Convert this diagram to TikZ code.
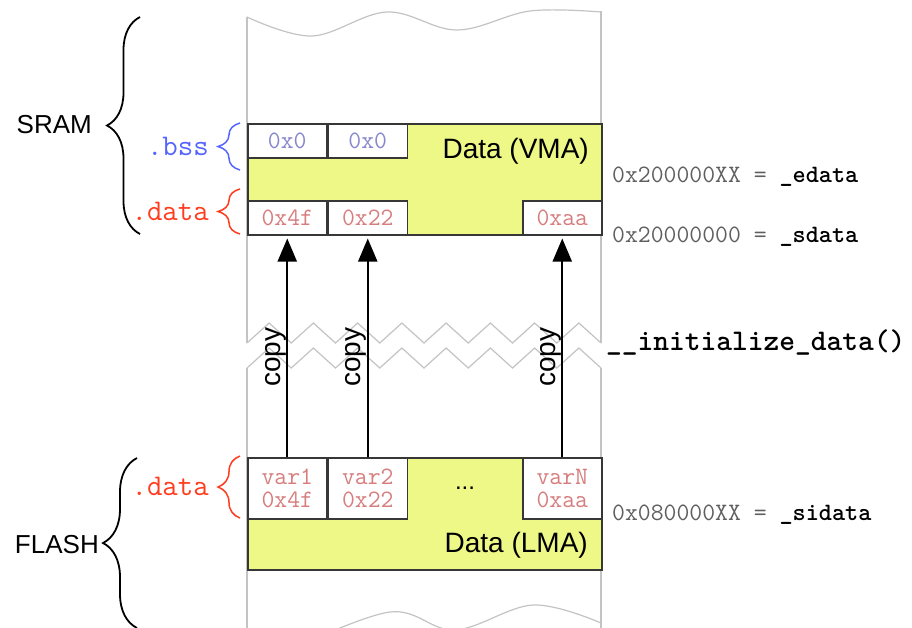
\documentclass[tikz,border=0pt]{standalone}
\usepackage{fontspec}
\setmainfont{Liberation Sans}
\usepackage{tikz}
\usetikzlibrary{calc,positioning,arrows.meta,decorations.pathreplacing}

\definecolor{wallgray}{RGB}{195,195,195}
\definecolor{boxline}{RGB}{55,55,55}
\definecolor{datayellow}{RGB}{238,248,134}
\definecolor{bssblue}{RGB}{85,100,255}
\definecolor{bsscell}{RGB}{135,135,205}
\definecolor{datared}{RGB}{255,60,30}
\definecolor{datacell}{RGB}{215,125,125}
\definecolor{addrgray}{RGB}{95,95,95}

\begin{document}
\begin{tikzpicture}[x=1pt, y=-1pt,
    wall/.style={draw=wallgray, line width=1.2pt},
    block/.style={draw=boxline, fill=datayellow, line width=1.5pt, minimum width=354pt, inner sep=0pt, anchor=north west},
    cell/.style={draw=boxline, fill=white, line width=1.5pt, minimum width=79pt, inner sep=0pt, align=center, font=\fontsize{25}{23}\selectfont\ttfamily},
    blocktext/.style={anchor=base east, inner sep=0pt, font=\fontsize{28}{30}\selectfont},
    memtext/.style={anchor=base east, inner sep=0pt, font=\fontsize{26}{28}\selectfont},
    sectext/.style={anchor=base east, inner sep=0pt, font=\fontsize{30}{32}\selectfont\ttfamily},
    addr/.style={anchor=base west, inner sep=0pt, text=addrgray, font=\fontsize{25}{27}\selectfont\ttfamily},
    bigbrace/.style={decorate, decoration={brace, amplitude=#1}, line width=1.8pt},
    smallbrace/.style={decorate, decoration={brace, amplitude=22pt}, line width=1.5pt},
    copyarrow/.style={line width=2pt, -{Triangle[length=23pt, width=19pt]}, shorten >=3pt},
    copylabel/.style={rotate=90, anchor=south, inner sep=0pt, pos=0.45, font=\fontsize{28}{30}\selectfont}
]
    \useasboundingbox (0,0) rectangle (912,627);
    % Draw memory column
    \draw[wall] plot[smooth, tension=0.6] coordinates {(247,17) (312,36) (387,12) (457,30) (530,11) (601,12)};
    \draw[wall] (247,17) -- (247,343);
    \draw[wall] (601,11) -- (601,343);
    \draw[wall] (247,368) -- (247,640);
    \draw[wall] (601,368) -- (601,640);
    \draw[wall] plot[smooth, tension=0.6] coordinates {(290,650) (390,612) (455,630) (533,605) (601,623)};
    % Draw torn edge
    \draw[wall] (247,343) \foreach \k in {1,...,8} { -- ++(22.125,-20) -- ++(22.125,20) };
    \draw[wall] (247,368) \foreach \k in {1,...,8} { -- ++(22.125,-20) -- ++(22.125,20) };
    % Draw data in SRAM
    \node[block, minimum height=111pt] (vma) at (247,123) {};
    \node[blocktext] (vmatext) at (589,158) {Data (VMA)};
    \node[cell, text=bsscell, minimum height=34pt, anchor=north west] (bss1) at (vma.north west) {0x0};
    \node[cell, text=bsscell, minimum height=34pt, right=0pt of bss1] (bss2) {0x0};
    \node[cell, text=datacell, minimum height=34pt, anchor=south west] (vd1) at (vma.south west) {0x4f};
    \node[cell, text=datacell, minimum height=34pt, right=0pt of vd1] (vd2) {0x22};
    \node[cell, text=datacell, minimum height=34pt, anchor=south east] (vdN) at (vma.south east) {0xaa};
    % Draw data in FLASH
    \node[block, minimum height=112pt] (lma) at (247,457) {};
    \node[blocktext] (lmatext) at (588,552) {Data (LMA)};
    \node[cell, text=datacell, minimum height=61pt, anchor=north west] (ld1) at (lma.north west) {var1\\0x4f};
    \node[cell, text=datacell, minimum height=61pt, right=0pt of ld1] (ld2) {var2\\0x22};
    \node[cell, text=datacell, minimum height=61pt, anchor=north east] (ldN) at (lma.north east) {varN\\0xaa};
    \node[font=\fontsize{24}{26}\selectfont] (dots) at ($(ld2.east)!0.5!(ldN.west)$) {...};
    % Draw copy arrows
    \draw[copyarrow] (ld1.north) -- node[copylabel] {copy} (vd1.south);
    \draw[copyarrow] (ld2.north) -- node[copylabel] {copy} (vd2.south);
    \draw[copyarrow] (ldN.north) -- node[copylabel] {copy} (vdN.south);
    % Label memories
    \draw[bigbrace=33pt] (140,234) -- (140,17);
    \node[memtext] (sram) at (92,133) {SRAM};
    \draw[bigbrace=34pt] (137,628) -- (137,458);
    \node[memtext] (flash) at (99,553) {FLASH};
    % Label sections
    \draw[smallbrace, bssblue] (240,170) -- (240,123);
    \node[sectext, text=bssblue] (bss) at (209,155) {.bss};
    \draw[smallbrace, datared] (240,234) -- (240,189);
    \node[sectext, text=datared] (sdata) at (209,220) {.data};
    \draw[smallbrace, datared] (240,518) -- (240,456);
    \node[sectext, text=datared] (fdata) at (209,495) {.data};
    % Label addresses
    \node[addr] (edata) at (612,182) {0x200000XX = {\color{black}\bfseries\_edata}};
    \node[addr] (sdataaddr) at (612,242) {0x20000000 = {\color{black}\bfseries\_sdata}};
    \node[addr] (sidata) at (612,520) {0x080000XX = {\color{black}\bfseries\_sidata}};
    \node[anchor=base west, inner sep=0pt, font=\fontsize{30}{32}\selectfont\ttfamily\bfseries] (init) at (606,350) {\_\_initialize\_data()};
\end{tikzpicture}
\end{document}
